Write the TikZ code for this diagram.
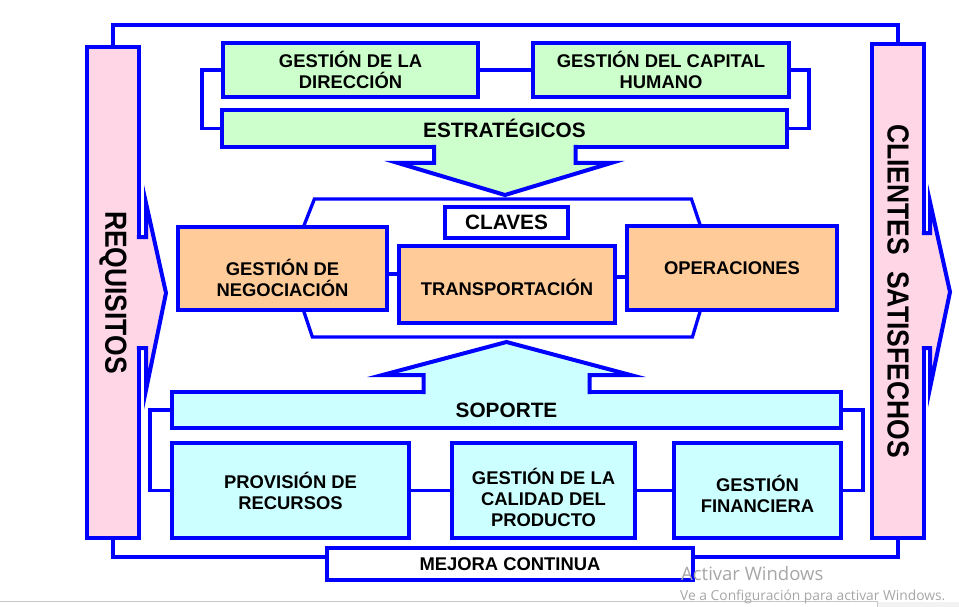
\documentclass[tikz,border=0pt]{standalone}
\usepackage{fontspec}
\setmainfont{Liberation Sans}
\newfontfamily\winfont{Open Sans}
\usetikzlibrary{positioning, calc}

\definecolor{frameblue}{RGB}{0,0,255}
\definecolor{stratgreen}{RGB}{204,255,204}
\definecolor{keyorange}{RGB}{255,204,153}
\definecolor{supcyan}{RGB}{204,255,255}
\definecolor{sidepink}{RGB}{255,214,230}

\begin{document}
\begin{tikzpicture}[x=1pt, y=-1pt]
\tikzstyle{box} = [rectangle, draw=frameblue, line width=4pt, outer sep=0pt, inner sep=2pt, align=center, font=\bfseries\fontsize{18.4}{21}\selectfont]
\tikzstyle{stratbox} = [box, fill=stratgreen]
\tikzstyle{keybox} = [box, fill=keyorange]
\tikzstyle{supbox} = [box, fill=supcyan]
\tikzstyle{whitebox} = [box, fill=white]
\tikzstyle{sidebox} = [box, fill=sidepink, minimum width=52pt]
\tikzstyle{bigtext} = [font=\bfseries\fontsize{20.8}{24}\selectfont]
\tikzstyle{sidetext} = [rotate=-90, yscale=1.15, font=\bfseries\fontsize{26.5}{30}\selectfont]
\tikzstyle{link} = [draw=frameblue, line width=3.3pt]
\tikzstyle{arrowpart} = [draw=frameblue, line width=4pt]

\useasboundingbox (0,0) rectangle (959,607);

% Procesos estratégicos
\node[stratbox, minimum width=255pt, minimum height=54pt] (dir) at (350.5,70) {GESTIÓN DE LA\\DIRECCIÓN};
\node[stratbox, minimum width=256pt, minimum height=54pt] (cap) [right=55pt of dir] {GESTIÓN DEL CAPITAL\\HUMANO};
\node[stratbox, bigtext, minimum width=565pt, minimum height=37pt] (estr) at (504.5,128.5) {ESTRATÉGICOS};

% Procesos claves
\node[keybox, minimum width=209pt, minimum height=83pt] (neg) at (282.5,268.5) {\rule{0pt}{35pt}GESTIÓN DE\\NEGOCIACIÓN};
\node[keybox, minimum width=216pt, minimum height=77pt] (trans) at (507,284.5) {\rule{0pt}{22pt}TRANSPORTACIÓN};
\node[keybox, minimum width=210pt, minimum height=84pt] (oper) at (732,268) {OPERACIONES};
\node[whitebox, bigtext, minimum width=123pt, minimum height=31pt] (clav) at (506.5,222.5) {CLAVES};

% Procesos de soporte
\node[supbox, bigtext, minimum width=669pt, minimum height=36pt] (sop) at (506.5,410) {SOPORTE};
\node[supbox, minimum width=237pt, minimum height=95pt] (prov) at (290.5,490.5) {PROVISIÓN DE\\RECURSOS};
\node[supbox, minimum width=183pt, minimum height=95pt] (cal) [right=43pt of prov] {\rule{0pt}{30pt}GESTIÓN DE LA\\CALIDAD DEL\\PRODUCTO};
\node[supbox, minimum width=167pt, minimum height=95pt] (fin) [right=39pt of cal] {\rule{0pt}{23pt}GESTIÓN\\FINANCIERA};
\node[whitebox, minimum width=366pt, minimum height=32pt] (mej) at (510,564) {MEJORA CONTINUA};

% Laterales
\node[sidebox, minimum height=491pt] (req) at (113,292.5) {};
\node[sidebox, minimum height=494pt] (cli) at (898,291) {};

% Flechas
\draw[arrowpart, fill=stratgreen] ($(estr.south)+(-70.5,-2.1)$) -- ++(0,18.1) -- ++(-36,0) -- ($(estr.south)+(0.5,48)$) -- ++(106,-32) -- ++(-35.5,0) -- ++(0,-18.1);
\draw[arrowpart, fill=supcyan] ($(sop.north)+(-83,2.1)$) -- ++(0,-19.1) -- ++(-41,0) -- ($(sop.north)+(0,-50)$) -- ++(124,33) -- ++(-41,0) -- ++(0,19.1);
\draw[arrowpart, fill=sidepink] ($(req.east)+(-2.1,-55.5)$) -- ++(9.1,0) -- ++(0,-34) -- ($(req.east)+(27,0.5)$) -- ($(req.east)+(7,97.5)$) -- ++(0,-42) -- ++(-9.1,0);
\draw[arrowpart, fill=sidepink] ($(cli.east)+(-2.1,-58)$) -- ++(8.1,0) -- ++(0,-31) -- ($(cli.east)+(26,1)$) -- ($(cli.east)+(6,97)$) -- ++(0,-40) -- ++(-8.1,0);
\node[sidetext] (reqt) at (req.center) {REQUISITOS};
\node[sidetext] (clit) at (cli.center) {CLIENTES\hspace{0.6em}SATISFECHOS};

% Conexiones
\draw[link] (dir.east) -- (cap.west);
\draw[link] (dir.west) -- ++(-21,0) |- (estr.west);
\draw[link] (cap.east) -- ++(20,0) |- (estr.east);
\draw[link] ($(neg.north west)!0.6!(neg.north east)$) -- ++(11,-28) -- ++(377,0) -- ($(oper.north west)!0.35!(oper.north east)$);
\draw[link] ($(neg.south west)!0.6!(neg.south east)$) -- ++(9,27) -- ++(380,0) -- ($(oper.south west)!0.35!(oper.south east)$);
\draw[link] ([yshift=-5.5pt]neg.east) -- ([yshift=-5.5pt]neg.east -| trans.west);
\draw[link] ([yshift=7.5pt]trans.east) -- ([yshift=7.5pt]trans.east -| oper.west);
\draw[link] (sop.west) -- ++(-22,0) |- (prov.west);
\draw[link] (sop.east) -- ++(22,0) |- (fin.east);
\draw[link] (prov.east) -- (cal.west);
\draw[link] (cal.east) -- (fin.west);
\draw[link] (req.north) -- ++(0,-22) -| (cli.north);
\draw[link] (req.south) |- ([yshift=7pt]mej.west);
\draw[link] ([yshift=7pt]mej.east) -| (cli.south);

% Borde de pantalla
\fill[gray!10] (877,601.5) rectangle (959,607);
\draw[gray!45, line width=1pt] (0,601.5) -- (877,601.5) -- (877,607);
\node[anchor=base west, inner sep=0pt, text=gray!70, font=\winfont\fontsize{18.5}{22}\selectfont] (win1) at (681,580) {Activar Windows};
\node[anchor=base west, inner sep=0pt, text=gray!70, font=\winfont\fontsize{13.8}{16}\selectfont] (win2) at (680,600) {Ve a Configuración para activar Windows.};
\end{tikzpicture}
\end{document}
